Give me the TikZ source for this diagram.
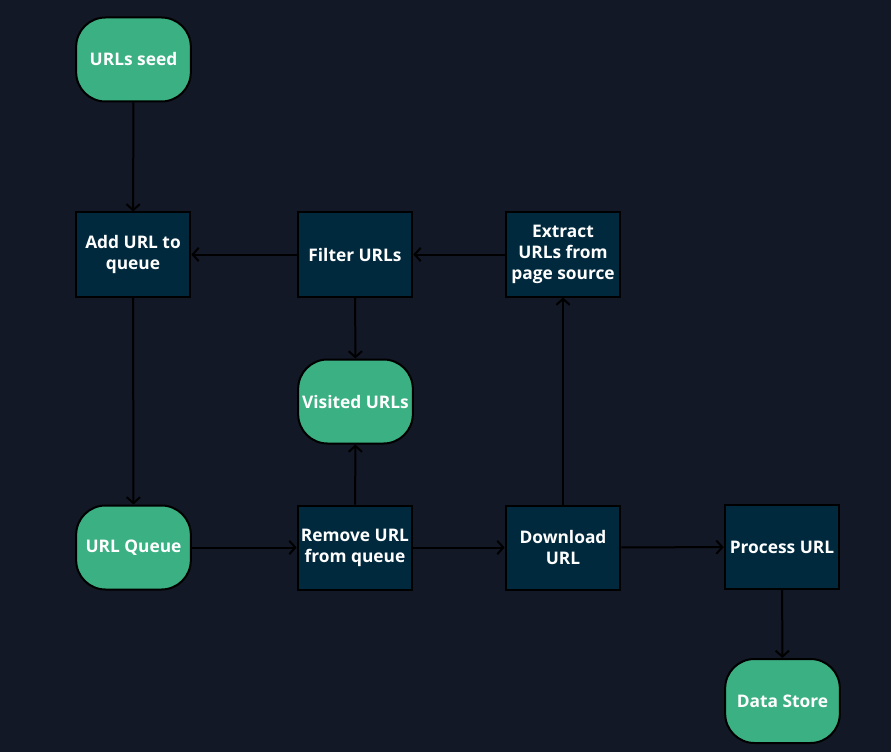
\documentclass[tikz,border=0pt]{standalone}
\usepackage{fontspec}
\setmainfont{Open Sans}
\usetikzlibrary{arrows.meta, positioning}
\definecolor{bgdark}{RGB}{19,24,38}
\definecolor{termgreen}{RGB}{59,176,131}
\definecolor{stepblue}{RGB}{1,41,61}

\begin{document}
\begin{tikzpicture}[
  x=0.75pt, y=-0.75pt,
  every node/.style = {font=\bfseries\fontsize{13}{15.75}\selectfont, text=white},
  term/.style = {draw=black, line width=1.5pt, fill=termgreen, rounded corners=22pt, align=center, minimum width=86pt, minimum height=63pt, inner sep=1pt},
  stepbox/.style = {draw=black, line width=1.5pt, fill=stepblue, align=center, minimum width=86pt, minimum height=63pt, inner sep=1pt},
  flow/.style = {draw=black, line width=1.5pt, -{Straight Barb[length=4.5pt, width=10pt, line width=1.5pt]}},
]
  \fill[bgdark] (0,0) rectangle (891,752);
  \useasboundingbox (0,0) rectangle (891,752);

  \node[term] (seed) at (133.5,59.5) {URLs seed};
  \node[stepbox] (add) at (133,254.5) {Add URL to\\queue};
  \node[stepbox] (filter) at (355,254.5) {Filter URLs};
  \node[stepbox] (extract) at (563,254.5) {Extract\\URLs from\\page source};
  \node[term] (visited) at (355.5,401.5) {Visited URLs};
  \node[term] (queue) at (133.5,547.5) {URL Queue};
  \node[stepbox] (remove) at (355,547.5) {Remove URL\\from queue};
  \node[stepbox] (download) at (563,547.5) {Download\\URL};
  \node[stepbox] (process) at (782,547) {Process URL};
  \node[term] (store) at (782.5,701) {Data Store};

  \draw[flow] (seed) -- (add);
  \draw[flow] (filter) -- (add);
  \draw[flow] (extract) -- (filter);
  \draw[flow] (filter) -- (visited);
  \draw[flow] (add) -- (queue);
  \draw[flow] (queue) -- (remove);
  \draw[flow] (remove) -- (visited);
  \draw[flow] (remove) -- (download);
  \draw[flow] (download) -- (extract);
  \draw[flow] (download) -- (process);
  \draw[flow] (process) -- (store);
\end{tikzpicture}
\end{document}
